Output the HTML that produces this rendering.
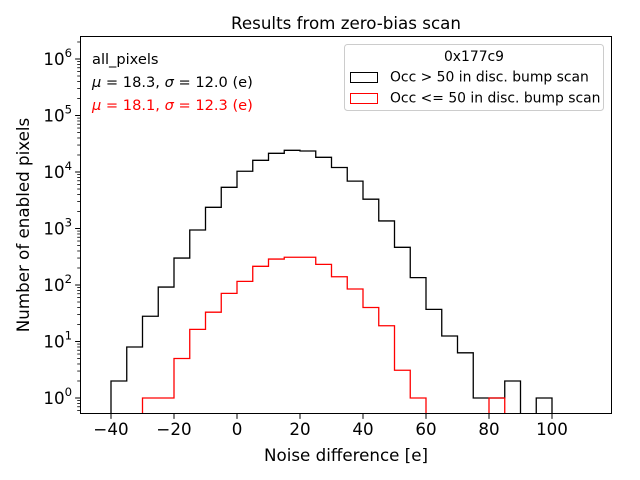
<!DOCTYPE html>
<html><head><meta charset="utf-8"><style>
body{margin:0;background:#fff}
svg{display:block;font-family:"DejaVu Sans","Liberation Sans",sans-serif}
</style></head><body>
<svg id="chart" width="640" height="480" viewBox="0 0 640 480" xmlns="http://www.w3.org/2000/svg">
<rect width="640" height="480" fill="#fff"/>
<g id="marks"></g>
<g id="axes"></g>
<text x="346" y="29" font-size="16.7" text-anchor="middle">Results from zero-bias scan</text>
<text x="346" y="461" font-size="16.7" text-anchor="middle">Noise difference [e]</text>
<text transform="translate(29,225) rotate(-90)" font-size="16.7" text-anchor="middle">Number of enabled pixels</text>
<text x="92" y="64" font-size="14.6">all_pixels</text>
<text x="92" y="87" font-size="14.6"><tspan font-style="italic">μ</tspan> = 18.3, <tspan font-style="italic">σ</tspan> = 12.0 (e)</text>
<text x="92" y="110" font-size="14.6" fill="#ff0000"><tspan font-style="italic">μ</tspan> = 18.1, <tspan font-style="italic">σ</tspan> = 12.3 (e)</text>
<g>
<rect x="344.5" y="44.5" width="259" height="66" rx="3" fill="#fff" fill-opacity="0.8" stroke="#ccc"/>
<text x="474" y="61" font-size="13.9" text-anchor="middle">0x177c9</text>
<rect x="350.5" y="72.5" width="27" height="10" fill="none" stroke="#000"/>
<text x="390" y="81.5" font-size="13.9">Occ &gt; 50 in disc. bump scan</text>
<rect x="350.5" y="93.5" width="27" height="10" fill="none" stroke="#ff0000"/>
<text x="390" y="102.5" font-size="13.9">Occ &lt;= 50 in disc. bump scan</text>
</g>
</svg>
<script>
const binEdgesStart = -40;
const binWidth = 5;
const blackCounts = [2,8,28,92,300,940,2370,5360,10300,16100,21400,24200,23500,18200,12000,6900,3300,1360,465,135,37,12.5,6.3,1,1,2,0,1];
const redCounts = [0,0,1,1,5,16.4,33,71,116,214,288,310,310,232,140,85,40,19,3.1,1,0,0,0,0,1,0,0,0];
const xTicks = [-40,-20,0,20,40,60,80,100];
const yTickExps = [0,1,2,3,4,5,6];

const L=80,R=612,T=36,B=414;
const xS=v=>237+v*3.15;
const yS=v=>398-Math.log10(v)*56.5;
const NS="http://www.w3.org/2000/svg";
const marks=document.getElementById('marks'), axes=document.getElementById('axes');
function mk(tag,attrs,parent){const e=document.createElementNS(NS,tag);for(const k in attrs)e.setAttribute(k,attrs[k]);parent.appendChild(e);return e;}

function stepPath(counts){
  let d='',on=false;
  for(let i=0;i<counts.length;i++){
    const x0=xS(binEdgesStart+i*binWidth),x1=xS(binEdgesStart+(i+1)*binWidth);
    const c=counts[i];
    if(c<=0){
      if(on){ d+=`L${x0},${B}`; on=false; }
      continue;
    }
    const y=yS(c);
    if(!on){ d+=`M${x0},${B}L${x0},${y}`; on=true; }
    else d+=`L${x0},${y}`;
    d+=`L${x1},${y}`;
  }
  if(on){ d+=`L${xS(binEdgesStart+counts.length*binWidth)},${B}`; }
  return d;
}
const pb=mk('path',{d:stepPath(blackCounts),fill:'none',stroke:'#000','stroke-width':1.3},marks);


const pr=mk('path',{d:stepPath(redCounts),fill:'none',stroke:'#ff0000','stroke-width':1.3},marks);



const frame=mk('rect',{x:L+.5,y:T+.5,width:R-L-1,height:B-T-1,fill:'none',stroke:'#000','stroke-width':1},axes);


xTicks.forEach(t=>{
  const x=xS(t);
  mk('line',{x1:x,x2:x,y1:B,y2:B+4.9,stroke:'#000'},axes);
  const tx=mk('text',{x:x,y:B+21,'font-size':16.7,'text-anchor':'middle'},axes);
  tx.textContent=(t<0?'\u2212':'')+Math.abs(t);
  
  
});
yTickExps.forEach(e=>{
  const y=yS(Math.pow(10,e));
  mk('line',{x1:L-4.9,x2:L,y1:y,y2:y,stroke:'#000'},axes);
  const tx=mk('text',{x:L-8,y:y+6,'font-size':16.7,'text-anchor':'end'},axes);
  tx.innerHTML='10<tspan dy="-8" font-size="11.7">'+e+'</tspan>';
  
  
  for(let m=2;m<10;m++){
    const ym=yS(m*Math.pow(10,e));
    if(ym>T) mk('line',{x1:L-2.8,x2:L,y1:ym,y2:ym,stroke:'#000','stroke-width':0.8},axes);
  }
});
for(let m=5;m<10;m++){const ym=yS(m*0.1);if(ym<B)mk('line',{x1:L-2.8,x2:L,y1:ym,y2:ym,stroke:'#000','stroke-width':0.8},axes);}
</script>
</body></html>
